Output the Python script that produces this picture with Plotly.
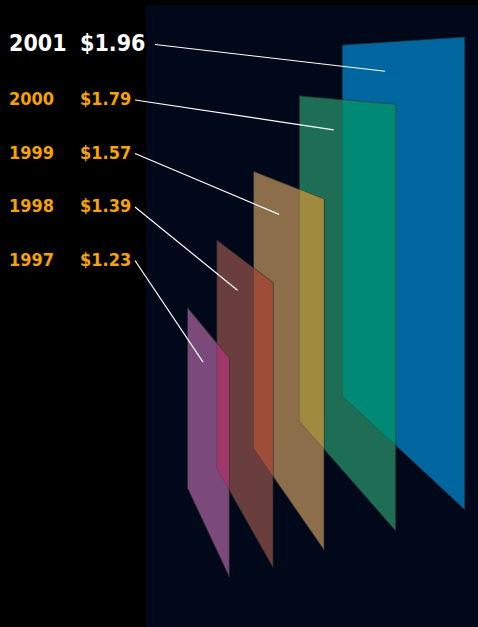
import plotly.graph_objects as go

# ---------------- data ----------------
years = ["1997", "1998", "1999", "2000", "2001"]
prices = [1.23, 1.39, 1.57, 1.79, 1.96]
price_labels = ["$1.23", "$1.39", "$1.57", "$1.79", "$1.96"]

# ---------------- styles / layout ----------------
W, H = 478, 627
PANEL_COLORS = ["#7B4A7A", "#6B3E3E", "#8C6E4B", "#1E6E55", "#0066A0"]
OVERLAP_COLORS = ["#A0386A", "#9E4D38", "#A08A40", "#008975"]
EDGE = "rgba(40,40,40,0.75)"
LABEL_COLORS = ["#F5A300", "#F5A300", "#F5A300", "#F5A300", "#FFFFFF"]
LABEL_SIZES = [18, 18, 18, 18, 23]
LABEL_Y = [259, 205.5, 152, 98.5, 43]
YEAR_X, PRICE_X = 6.5, 77.5
LINE_START_X = [135, 135, 135, 135, 155]
FONT = "DejaVu Sans Condensed, DejaVu Sans, sans-serif"

# perspective camera (world: height in $ units)
CX, CY, F = -10.0, 68.0, 400.0
EYE = 1.88      # eye level
BASE = 0.74     # ground level of the panels
# panel placement in the scene (lateral offset, far depth, near depth)
PANEL_X = [0.536, 0.646, 0.790, 0.999, 1.225]
PANEL_Z_FAR = [1.086, 1.139, 1.199, 1.292, 1.391]
PANEL_Z_NEAR = [0.896, 0.913, 0.946, 0.985, 1.032]
ANCHOR_U = 0.42
ANCHOR_DROP = 0.09


def project(X, Y, Z):
    return CX + F * X / Z, CY + F * (EYE - Y) / Z


def panel_poly(i):
    X, zf, zn, v = PANEL_X[i], PANEL_Z_FAR[i], PANEL_Z_NEAR[i], prices[i]
    return [project(X, BASE, zf), project(X, v, zf),
            project(X, v, zn), project(X, BASE, zn)]


def signed_area(p):
    a = 0.0
    for k in range(len(p)):
        x1, y1 = p[k]
        x2, y2 = p[(k + 1) % len(p)]
        a += x1 * y2 - x2 * y1
    return a / 2


def clip(subject, clipper):
    orient = 1 if signed_area(clipper) > 0 else -1

    def inside(p, a, b):
        return orient * ((b[0] - a[0]) * (p[1] - a[1]) - (b[1] - a[1]) * (p[0] - a[0])) >= 0

    def inter(p1, p2, a, b):
        x1, y1 = p1; x2, y2 = p2; x3, y3 = a; x4, y4 = b
        d = (x1 - x2) * (y3 - y4) - (y1 - y2) * (x3 - x4)
        t = ((x1 - x3) * (y3 - y4) - (y1 - y3) * (x3 - x4)) / d
        return (x1 + t * (x2 - x1), y1 + t * (y2 - y1))

    out = list(subject)
    for k in range(len(clipper)):
        a, b = clipper[k], clipper[(k + 1) % len(clipper)]
        inp, out = out, []
        if not inp:
            break
        s = inp[-1]
        for e in inp:
            if inside(e, a, b):
                if not inside(s, a, b):
                    out.append(inter(s, e, a, b))
                out.append(e)
            elif inside(s, a, b):
                out.append(inter(s, e, a, b))
            s = e
    return out


fig = go.Figure()

polys = [panel_poly(i) for i in range(len(years))]

# panels, back to front
for i in reversed(range(len(years))):
    p = polys[i] + [polys[i][0]]
    fig.add_trace(go.Scatter(
        x=[q[0] for q in p], y=[q[1] for q in p], mode="lines",
        fill="toself", fillcolor=PANEL_COLORS[i],
        line=dict(color=EDGE, width=1), hoverinfo="skip", showlegend=False))

# overlaps between neighbouring panels
for i in range(len(years) - 1):
    ov = clip(polys[i + 1], polys[i])
    if len(ov) < 3:
        continue
    ov = ov + [ov[0]]
    fig.add_trace(go.Scatter(
        x=[q[0] for q in ov], y=[q[1] for q in ov], mode="lines",
        fill="toself", fillcolor=OVERLAP_COLORS[i],
        line=dict(color="rgba(40,40,40,0.35)", width=0.6),
        hoverinfo="skip", showlegend=False))

# leader lines + labels
annotations = []
for i in range(len(years)):
    zf, zn = PANEL_Z_FAR[i], PANEL_Z_NEAR[i]
    za = zf + ANCHOR_U * (zn - zf)
    ax_, ay_ = project(PANEL_X[i], prices[i] - ANCHOR_DROP, za)
    sy = LABEL_Y[i] + 1.5
    fig.add_trace(go.Scatter(
        x=[LINE_START_X[i], ax_], y=[sy, ay_], mode="lines",
        line=dict(color="white", width=1.2), hoverinfo="skip", showlegend=False))
    col = LABEL_COLORS[i]
    for txt, xpos in ((years[i], YEAR_X), (price_labels[i], PRICE_X)):
        annotations.append(dict(
            x=xpos, y=LABEL_Y[i], xref="x", yref="y", text="<b>" + txt + "</b>",
            showarrow=False, xanchor="left", yanchor="middle",
            font=dict(family=FONT, size=LABEL_SIZES[i], color=col)))

fig.update_layout(
    width=W, height=H,
    margin=dict(l=0, r=0, t=0, b=0),
    paper_bgcolor="#000000", plot_bgcolor="#000000",
    xaxis=dict(range=[0, W], visible=False, fixedrange=True),
    yaxis=dict(range=[H, 0], visible=False, fixedrange=True),
    shapes=[dict(type="rect", xref="x", yref="y", x0=146, x1=W, y0=5, y1=H,
                 fillcolor="#00081A", line=dict(width=0), layer="below")],
    annotations=annotations,
)

fig.write_html(
    "out.html",
    config={"displayModeBar": False},
    post_script="document.body.style.margin='0';document.body.style.padding='0';"
                "document.body.style.background='#000';",
)
